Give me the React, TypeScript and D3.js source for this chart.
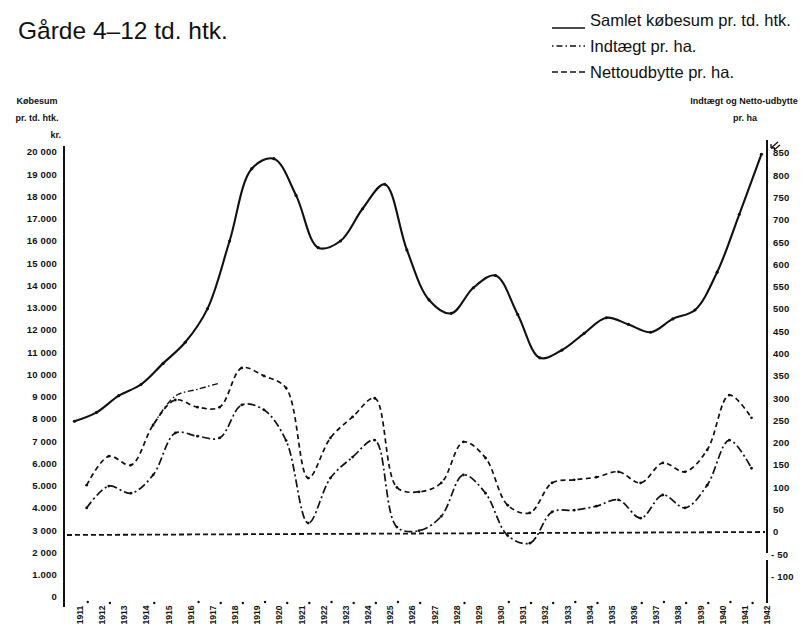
import React from "react";
import * as d3 from "d3";

const years = d3.range(1911, 1943);
const priceYears = d3.range(1911, 1943);
const priceValues = [
  7900, 8300, 9050, 9550, 10500, 11450, 12950, 16000, 19250, 19700, 18050,
  15700, 16000, 17450, 18550, 15600, 13350, 12750, 13900, 14450, 12700, 10750,
  11100, 11850, 12550, 12250, 11900, 12500, 12900, 14600, 17200, 19900,
];
const incomeYears = d3.range(1911, 1942);
const indtaegtValues = [
  105, 170, 150, 240, 296, 280, 280, 368, 350, 323, 121, 211, 258, 300, 100, 90,
  110, 202, 166, 60, 43, 110, 117, 123, 135, 110, 155, 135, 184, 307, 256,
];
const nettoValues = [
  54, 103, 87, 128, 222, 215, 211, 285, 274, 205, 20, 121, 168, 206, 11, 3, 35,
  128, 87, -8, -25, 45, 49, 58, 72, 31, 83, 54, 105, 206, 143,
];
const branchYears = [1914, 1915, 1916, 1917];
const branchValues = [240, 305, 320, 334];

const leftTicks = d3.range(0, 20001, 1000);
const leftTickLabels = [
  "0", "1.000", "2 000", "3 000", "4.000", "5.000", "6.000", "7 000", "8 000",
  "9 000", "10 000", "11 000", "12 000", "13.000", "14 000", "15 000", "16 000",
  "17.000", "18 000", "19 000", "20 000",
];
const rightTicks = d3.range(-100, 851, 50);
const rightTickLabels = rightTicks.map((v) => (v < 0 ? "- " + -v : String(v)));
const dotYears = [
  1911, 1912, 1914, 1916, 1917, 1918, 1919, 1920, 1921, 1922, 1923, 1924, 1925,
  1926, 1928, 1930, 1931, 1932, 1933, 1934, 1936, 1937, 1938, 1939, 1940, 1941,
];

const title = "Gårde 4–12 td. htk.";
const legendItems = [
  { label: "Samlet købesum pr. td. htk.", dash: "none" },
  { label: "Indtægt pr. ha.", dash: "1.5,3,6,3" },
  { label: "Nettoudbytte pr. ha.", dash: "6,3" },
];

const PRICE_SHIFT = -0.25;
const INCOME_SHIFT = 0.3;

export default function App() {
  const x = d3.scaleLinear().domain([1911, 1942]).range([80, 767]);
  const yL = d3.scaleLinear().domain([0, 20000]).range([597, 152]);
  const yR = d3.scaleLinear().domain([0, 850]).range([532, 153]);

  const curve = d3.curveCatmullRom.alpha(0.5);
  const priceLine = d3
    .line<number>()
    .x((_, i) => x(priceYears[i] + PRICE_SHIFT))
    .y((d) => yL(d))
    .curve(curve);
  const incLine = (ys: number[]) =>
    d3
      .line<number>()
      .x((_, i) => x(ys[i] + INCOME_SHIFT))
      .y((d) => yR(d))
      .curve(curve);

  const font = "'Liberation Sans', Arial, Helvetica, sans-serif";

  return (
    <svg
      width={810}
      height={629}
      style={{ position: "absolute", left: 0, top: 0, background: "#fff" }}
      fontFamily={font}
    >
      <rect x={0} y={0} width={810} height={629} fill="#fff" />
      <text x={18} y={39} fontSize={24.5} fill="#111">
        {title}
      </text>

      {legendItems.map((it, i) => {
        const cy = i === 0 ? 28 : 46 + (i - 1) * 26;
        const ty = 20 + i * 26;
        return (
          <g key={it.label}>
            <line
              x1={552}
              x2={585}
              y1={cy}
              y2={cy}
              stroke="#111"
              strokeWidth={1.7}
              strokeDasharray={it.dash}
            />
            <text x={590} y={ty} dy="0.36em" fontSize={16.5} fill="#111">
              {it.label}
            </text>
          </g>
        );
      })}

      {/* axis titles */}
      <g fontSize={9} fontWeight="bold" fill="#111">
        <text x={37} y={101} textAnchor="middle" dy="0.35em">Købesum</text>
        <text x={37} y={118} textAnchor="middle" dy="0.35em">pr. td. htk.</text>
        <text x={61} y={135} textAnchor="end" dy="0.35em">kr.</text>
        <text x={744} y={101} textAnchor="middle" dy="0.35em">Indtægt og Netto-udbytte</text>
        <text x={745} y={118} textAnchor="middle" dy="0.35em">pr. ha</text>
      </g>

      {/* axes */}
      <line x1={64} x2={64} y1={146} y2={607} stroke="#111" strokeWidth={2} />
      <line x1={767} x2={767} y1={140} y2={553} stroke="#111" strokeWidth={2} />
      <line x1={767} x2={767} y1={560} y2={603} stroke="#111" strokeWidth={2} />
      <path
        d="M778,142 L771,148 M771,148 L771,144 M771,148 L775,148 M780,145 L774,150"
        stroke="#111"
        strokeWidth={1.3}
        fill="none"
      />

      <g fontSize={9.5} fontWeight="bold" fill="#111" letterSpacing={0.2}>
        {leftTicks.map((v, i) => (
          <text key={v} x={57} y={yL(v)} textAnchor="end" dy="0.35em">
            {leftTickLabels[i]}
          </text>
        ))}
        {rightTicks.map((v, i) => (
          <text key={v} x={v < 0 ? 771 : 773} y={yR(v)} textAnchor="start" dy="0.35em">
            {rightTickLabels[i]}
          </text>
        ))}
      </g>
      <g fontSize={8.5} fontWeight="bold" fill="#111">
        {years.map((yr) => (
          <text
            key={yr}
            transform={`translate(${x(yr) + 3},615) rotate(-90)`}
            textAnchor="middle"
          >
            {yr}
          </text>
        ))}
      </g>
      {dotYears.map((yr, i) => (
        <circle key={yr} cx={x(yr + 0.35)} cy={i % 3 === 0 ? 602 : 603} r={1.2} fill="#111" />
      ))}

      {/* zero line */}
      <line
        x1={67}
        x2={765}
        y1={yR(0) + 3}
        y2={yR(0)}
        stroke="#111"
        strokeWidth={1.8}
        strokeDasharray="5,3"
      />

      <path d={priceLine(priceValues) || ""} fill="none" stroke="#111" strokeWidth={2.1} />
      {priceValues.map((v, i) => (
        <circle key={i} cx={x(priceYears[i] + PRICE_SHIFT)} cy={yL(v)} r={1.6} fill="#111" />
      ))}

      <path
        d={incLine(incomeYears)(indtaegtValues) || ""}
        fill="none"
        stroke="#111"
        strokeWidth={1.7}
        strokeDasharray="5,3.5"
      />
      <path
        d={incLine(branchYears)(branchValues) || ""}
        fill="none"
        stroke="#111"
        strokeWidth={1.4}
        strokeDasharray="6,2.5,1.5,2.5"
      />
      <path
        d={incLine(incomeYears)(nettoValues) || ""}
        fill="none"
        stroke="#111"
        strokeWidth={1.7}
        strokeDasharray="8,3,2,3"
      />
      {indtaegtValues.map((v, i) => (
        <circle key={"a" + i} cx={x(incomeYears[i] + INCOME_SHIFT)} cy={yR(v)} r={1.4} fill="#111" />
      ))}
      {nettoValues.map((v, i) => (
        <circle key={"b" + i} cx={x(incomeYears[i] + INCOME_SHIFT)} cy={yR(v)} r={1.4} fill="#111" />
      ))}
    </svg>
  );
}
